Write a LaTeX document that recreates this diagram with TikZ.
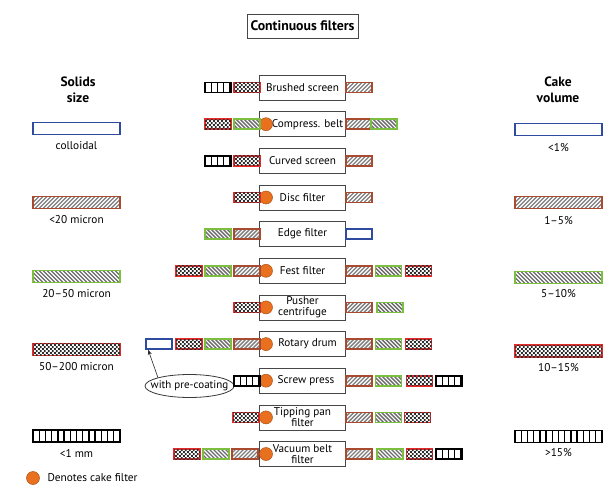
\documentclass[tikz,border=0pt]{standalone}
\usepackage{fontspec}
\setmainfont{PT Sans}
\usetikzlibrary{shapes.geometric,patterns,arrows.meta}

\definecolor{cblue}{HTML}{2E4BA0}
\definecolor{cbrown}{HTML}{A84A30}
\definecolor{cgreen}{HTML}{7CBF3F}
\definecolor{cred}{HTML}{E52A2A}
\definecolor{corange}{HTML}{E8701E}
\definecolor{hatch}{HTML}{7E7E7E}

% small checkerboard for the 50-200 micron swatch
\pgfdeclarepatternformonly{finechecks}{\pgfqpoint{0pt}{0pt}}{\pgfqpoint{3.8pt}{3.8pt}}{\pgfqpoint{3.8pt}{3.8pt}}{
  \pgfpathrectangle{\pgfqpoint{0pt}{0pt}}{\pgfqpoint{1.9pt}{1.9pt}}
  \pgfpathrectangle{\pgfqpoint{1.9pt}{1.9pt}}{\pgfqpoint{1.9pt}{1.9pt}}
  \pgfusepath{fill}}

\tikzset{
  swatch/.style={draw, line width=1.6pt, inner sep=0pt, minimum width=26pt, minimum height=10pt},
  wide/.style={minimum width=87pt, minimum height=12pt},
  sw-blue/.style={swatch, draw=cblue, fill=white},
  sw-brown/.style={swatch, draw=cbrown, fill=white, path picture={
      \foreach \i in {-16,-12,...,92}
        \draw[hatch, line width=1.3pt] ([xshift=\i pt, yshift=-2pt]path picture bounding box.south west) -- ++(18pt,18pt);}},
  sw-green/.style={swatch, draw=cgreen, fill=white, path picture={
      \foreach \i in {-16,-12,...,92}
        \draw[hatch!85!black, line width=1.4pt] ([xshift=\i pt, yshift=2pt]path picture bounding box.north west) -- ++(18pt,-18pt);}},
  sw-red/.style={swatch, draw=cred, fill=white, postaction={pattern=finechecks, pattern color=gray!35!black}},
  sw-black/.style={swatch, draw=black, line width=1.9pt, fill=white, path picture={
      \foreach \i in {6.2,12.4,...,86}
        \draw[black, line width=1.4pt] ([xshift=\i pt]path picture bounding box.south west) -- ([xshift=\i pt]path picture bounding box.north west);}},
  filterbox/.style={draw=gray!55!black, line width=0.8pt, fill=white, minimum width=86pt, minimum height=25pt,
      inner sep=1pt, align=center, font=\fontsize{11.2}{11}\selectfont},
  cake/.style={circle, fill=corange, draw=corange!75!black, line width=0.5pt, minimum size=13pt, inner sep=0pt},
  heading/.style={align=center, font=\fontsize{13.5}{16.5}\selectfont\bfseries},
  caption/.style={font=\fontsize{11.3}{12}\selectfont},
}

\begin{document}
\begin{tikzpicture}[x=1pt, y=-1pt]
\useasboundingbox (0,0) rectangle (608,487);

% title
\node[draw=gray!55!black, line width=0.9pt, minimum width=111pt, minimum height=24pt, inner sep=0pt,
      font=\fontsize{13.8}{15}\selectfont\bfseries] (title) at (302.5,26) {Continuous filters};

% legend: solids size
\node[heading] (solids) at (78,90) {Solids\\size};
\node[sw-blue, wide]  (sA) at (76.5,128.5) {};
\node[caption] (sAt) at (76.5,146) {colloidal};
\node[sw-brown, wide] (sB) at (76.5,202.5) {};
\node[caption] (sBt) at (76.5,220) {<20 micron};
\node[sw-green, wide] (sC) at (76.5,276.5) {};
\node[caption] (sCt) at (76.5,293.5) {20--50 micron};
\node[sw-red, wide]   (sD) at (76.5,349.5) {};
\node[caption] (sDt) at (76.5,367) {50--200 micron};
\node[sw-black, wide] (sE) at (76.5,436) {};
\node[caption] (sEt) at (76.5,453) {<1 mm};

% legend: cake volume
\node[heading] (cakevol) at (558,90) {Cake\\volume};
\node[sw-blue, wide]  (vA) at (558.5,129.5) {};
\node[caption] (vAt) at (558.5,148) {<1\%};
\node[sw-brown, wide] (vB) at (558.5,202.5) {};
\node[caption] (vBt) at (558.5,221) {1--5\%};
\node[sw-green, wide] (vC) at (558.5,277.5) {};
\node[caption] (vCt) at (558.5,293.5) {5--10\%};
\node[sw-red, wide]   (vD) at (558.5,351) {};
\node[caption] (vDt) at (558.5,368) {10--15\%};
\node[sw-black, wide] (vE) at (558.5,436.5) {};
\node[caption] (vEt) at (558.5,453) {>15\%};

% cake filter key
\node[cake] (key) at (33,478) {};
\node[caption, anchor=west] (keyt) at (44,478) {Denotes cake filter};

% 1 Brushed screen
\node[filterbox] (f1) at (302.5,87.5) {Brushed screen};
\node[sw-black] (f1l2) at (218,87.5) {};
\node[sw-red]   (f1l1) at (247,87.5) {};
\node[sw-brown] (f1r1) at (359,87.5) {};

% 2 Compress. belt
\node[filterbox] (f2) at (302.5,124.2) {\hspace*{10pt}Compress. belt};
\node[cake] (c2) at (266,124.2) {};
\node[sw-red]   (f2l2) at (218,124.2) {};
\node[sw-green] (f2l1) at (247,124.2) {};
\node[sw-brown] (f2r1) at (359,124.2) {};
\node[sw-green] (f2r2) at (384,124.2) {};

% 3 Curved screen
\node[filterbox] (f3) at (302.5,160.8) {Curved screen};
\node[sw-black] (f3l2) at (218,160.8) {};
\node[sw-red]   (f3l1) at (247,160.8) {};
\node[sw-brown] (f3r1) at (359,160.8) {};

% 4 Disc filter
\node[filterbox] (f4) at (302.5,197.5) {Disc filter};
\node[cake] (c4) at (266,197.5) {};
\node[sw-red]   (f4l1) at (247,197.5) {};
\node[sw-brown] (f4r1) at (359,197.5) {};

% 5 Edge filter
\node[filterbox] (f5) at (302.5,234.1) {Edge filter};
\node[sw-green] (f5l2) at (218,234.1) {};
\node[sw-brown] (f5l1) at (247,234.1) {};
\node[sw-blue]  (f5r1) at (359,234.1) {};

% 6 Fest filter
\node[filterbox] (f6) at (302.5,270.8) {Fest filter};
\node[cake] (c6) at (266,270.8) {};
\node[sw-red]   (f6l3) at (189,270.8) {};
\node[sw-green] (f6l2) at (218,270.8) {};
\node[sw-brown] (f6l1) at (247,270.8) {};
\node[sw-brown] (f6r1) at (359,270.8) {};
\node[sw-green] (f6r2) at (388.5,270.8) {};
\node[sw-red]   (f6r3) at (418.5,270.8) {};

% 7 Pusher centrifuge
\node[filterbox] (f7) at (302.5,307.4) {Pusher\\centrifuge};
\node[cake] (c7) at (266,307.4) {};
\node[sw-red]   (f7l1) at (247,307.4) {};
\node[sw-brown] (f7r1) at (359,307.4) {};
\node[sw-green] (f7r2) at (390,307.4) {};

% 8 Rotary drum
\node[filterbox] (f8) at (302.5,344.1) {\hspace*{10pt}Rotary drum};
\node[cake] (c8) at (266,344.1) {};
\node[sw-blue]  (f8l4) at (159,344.1) {};
\node[sw-red]   (f8l3) at (189,344.1) {};
\node[sw-green] (f8l2) at (218,344.1) {};
\node[sw-brown] (f8l1) at (247,344.1) {};
\node[sw-brown] (f8r1) at (359,344.1) {};
\node[sw-green] (f8r2) at (388.5,344.1) {};
\node[sw-red]   (f8r3) at (418.5,344.1) {};

% pre-coating note
\node[ellipse, draw=gray!45!black, line width=0.8pt, fill=white, minimum width=89pt, minimum height=23pt, inner sep=0pt,
      font=\fontsize{11}{12}\selectfont] (pc) at (189.5,386) {\makebox[0pt]{with pre-coating}};
\draw[gray!30!black, line width=0.6pt, -{Stealth[length=5pt, width=4pt]}] (pc.165) -- ([xshift=3pt]f8l4.south west);

% 9 Screw press
\node[filterbox] (f9) at (302.5,380.7) {\hspace*{7pt}Screw press};
\node[cake] (c9) at (266,380.7) {};
\node[sw-black] (f9l1) at (247,380.7) {};
\node[sw-brown] (f9r1) at (359,380.7) {};
\node[sw-green] (f9r2) at (388.5,380.7) {};
\node[sw-red]   (f9r3) at (419.5,380.7) {};
\node[sw-black] (f9r4) at (449,380.7) {};

% 10 Tipping pan filter
\node[filterbox] (f10) at (302.5,417.4) {Tipping pan\\filter};
\node[cake] (c10) at (266,417.4) {};
\node[sw-red]   (f10l1) at (246,417.4) {};
\node[sw-brown] (f10r1) at (359,417.4) {};
\node[sw-green] (f10r2) at (388.5,417.4) {};
\node[sw-red]   (f10r3) at (417.5,417.4) {};

% 11 Vacuum belt filter
\node[filterbox] (f11) at (302.5,454) {Vacuum belt\\filter};
\node[cake] (c11) at (266,454) {};
\node[sw-red]   (f11l3) at (187,454) {};
\node[sw-green] (f11l2) at (216,454) {};
\node[sw-brown] (f11l1) at (245,454) {};
\node[sw-brown] (f11r1) at (359,454) {};
\node[sw-green] (f11r2) at (390,454) {};
\node[sw-red]   (f11r3) at (419.5,454) {};
\node[sw-black] (f11r4) at (449,454) {};
\end{tikzpicture}
\end{document}
